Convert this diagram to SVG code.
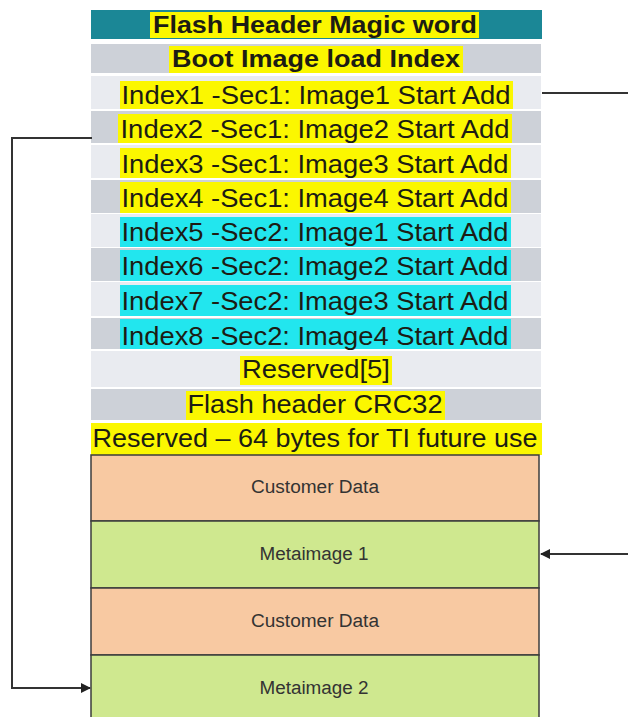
<svg xmlns="http://www.w3.org/2000/svg" width="628" height="717" viewBox="0 0 628 717">
<style>
.lt{fill:#e9ebf0}
.dk{fill:#cdd1d8}
.hy{fill:#fbf700}
.hc{fill:#22e6ee}
.t{font-family:"Liberation Sans",Arial,sans-serif;font-size:25px;fill:#1c1c14;text-anchor:middle}
.b{font-weight:bold;font-size:23px}
.blk{stroke:#3c3c3c;stroke-width:1.5}
.s{font-family:"Liberation Sans",Arial,sans-serif;font-size:18px;fill:#333;text-anchor:middle}
.c{fill:none;stroke:#333;stroke-width:2}
</style>
<defs>
<marker id="ah" markerWidth="10" markerHeight="10" refX="9" refY="5" orient="auto" markerUnits="userSpaceOnUse">
<path d="M0,0 L10,5 L0,10 z" fill="#222"/>
</marker>
</defs>
<rect width="628" height="717" fill="#ffffff"/>
<g id="row0"><rect x="91" y="10" width="451" height="29" fill="#1b8796"/><rect class="hy" x="150" y="12" width="329" height="26"/><text class="t b" x="315" y="33" textLength="324" lengthAdjust="spacingAndGlyphs">Flash Header Magic word</text></g>
<g id="row1"><rect class="dk" x="91" y="44" width="450" height="29" fill="#d4d7dd"/><rect class="hy" x="169" y="46" width="294" height="27"/><text class="t b" x="316" y="67" textLength="288" lengthAdjust="spacingAndGlyphs">Boot Image load Index</text></g>
<g id="row2"><rect class="lt" x="91" y="76" width="450" height="33"/><rect class="hy" x="120" y="81" width="393" height="28"/><text class="t" x="316" y="104" textLength="389" lengthAdjust="spacingAndGlyphs">Index1 -Sec1: Image1 Start Add</text></g>
<g id="row3"><rect class="dk" x="91" y="111" width="450" height="32"/><rect class="hy" x="118" y="114" width="394" height="29"/><text class="t" x="315" y="138" textLength="389" lengthAdjust="spacingAndGlyphs">Index2 -Sec1: Image2 Start Add</text></g>
<g id="row4"><rect class="lt" x="91" y="145" width="450" height="33"/><rect class="hy" x="120" y="148" width="391" height="30"/><text class="t" x="315" y="173" textLength="387" lengthAdjust="spacingAndGlyphs">Index3 -Sec1: Image3 Start Add</text></g>
<g id="row5"><rect class="dk" x="91" y="180" width="450" height="33"/><rect class="hy" x="120" y="182" width="391" height="31"/><text class="t" x="315" y="207" textLength="387" lengthAdjust="spacingAndGlyphs">Index4 -Sec1: Image4 Start Add</text></g>
<g id="row6"><rect class="lt" x="91" y="214" width="450" height="33"/><rect class="hc" x="120" y="217" width="391" height="30"/><text class="t" x="315" y="241" textLength="387" lengthAdjust="spacingAndGlyphs">Index5 -Sec2: Image1 Start Add</text></g>
<g id="row7"><rect class="dk" x="91" y="248" width="450" height="33"/><rect class="hc" x="120" y="250" width="391" height="31"/><text class="t" x="315" y="275" textLength="387" lengthAdjust="spacingAndGlyphs">Index6 -Sec2: Image2 Start Add</text></g>
<g id="row8"><rect class="lt" x="91" y="282" width="450" height="34"/><rect class="hc" x="120" y="285" width="391" height="31"/><text class="t" x="315" y="310" textLength="387" lengthAdjust="spacingAndGlyphs">Index7 -Sec2: Image3 Start Add</text></g>
<g id="row9"><rect class="dk" x="91" y="318" width="450" height="31"/><rect class="hc" x="120" y="319" width="391" height="30"/><text class="t" x="315" y="345" textLength="387" lengthAdjust="spacingAndGlyphs">Index8 -Sec2: Image4 Start Add</text></g>
<g id="row10"><rect class="lt" x="91" y="351" width="450" height="36"/><rect class="hy" x="240" y="356" width="152" height="29"/><text class="t" x="316" y="378" textLength="148" lengthAdjust="spacingAndGlyphs">Reserved[5]</text></g>
<g id="row11"><rect class="dk" x="91" y="389" width="450" height="31"/><rect class="hy" x="186" y="391" width="259" height="29"/><text class="t" x="315" y="413" textLength="255" lengthAdjust="spacingAndGlyphs">Flash header CRC32</text></g>
<g id="row12"><rect class="hy" x="91" y="423" width="451" height="32"/><text class="t" x="315" y="447" textLength="445" lengthAdjust="spacingAndGlyphs">Reserved – 64 bytes for TI future use</text></g>
<g id="cust1"><rect class="blk" x="91" y="455" width="448" height="66" fill="#f8c9a2"/><text class="s" x="315" y="493" textLength="128" lengthAdjust="spacingAndGlyphs">Customer Data</text></g>
<g id="meta1"><rect class="blk" x="91" y="521" width="448" height="67" fill="#cfe88f"/><text class="s" x="314" y="560" textLength="109" lengthAdjust="spacingAndGlyphs">Metaimage 1</text></g>
<g id="cust2"><rect class="blk" x="91" y="588" width="448" height="67" fill="#f8c9a2"/><text class="s" x="315" y="627" textLength="128" lengthAdjust="spacingAndGlyphs">Customer Data</text></g>
<g id="meta2"><rect class="blk" x="91" y="655" width="448" height="70" fill="#cfe88f"/><text class="s" x="314" y="694" textLength="109" lengthAdjust="spacingAndGlyphs">Metaimage 2</text></g>
<g id="connectors">
<path class="c" d="M542,93 H634 V554 H541" marker-end="url(#ah)"/>
<path class="c" d="M92,138 H12 V688 H90" marker-end="url(#ah)"/>
</g>
</svg>
